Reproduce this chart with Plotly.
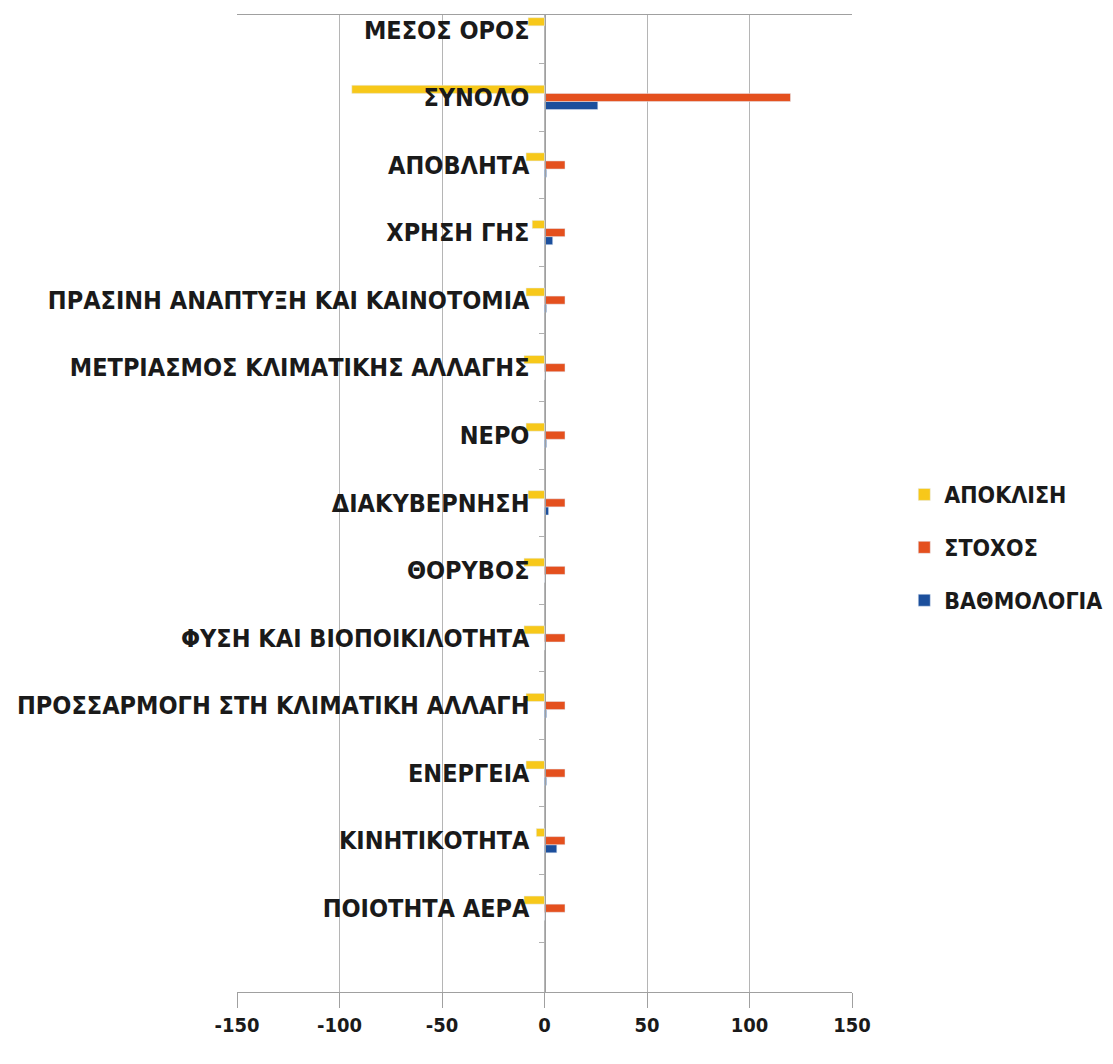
import plotly.graph_objects as go

# categories, bottom to top
categories = ["ΠΟΙΟΤΗΤΑ ΑΕΡΑ", "ΚΙΝΗΤΙΚΟΤΗΤΑ", "ΕΝΕΡΓΕΙΑ",
              "ΠΡΟΣΣΑΡΜΟΓΗ ΣΤΗ ΚΛΙΜΑΤΙΚΗ ΑΛΛΑΓΗ", "ΦΥΣΗ ΚΑΙ ΒΙΟΠΟΙΚΙΛΟΤΗΤΑ",
              "ΘΟΡΥΒΟΣ", "ΔΙΑΚΥΒΕΡΝΗΣΗ", "ΝΕΡΟ",
              "ΜΕΤΡΙΑΣΜΟΣ ΚΛΙΜΑΤΙΚΗΣ ΑΛΛΑΓΗΣ", "ΠΡΑΣΙΝΗ ΑΝΑΠΤΥΞΗ ΚΑΙ ΚΑΙΝΟΤΟΜΙΑ",
              "ΧΡΗΣΗ ΓΗΣ", "ΑΠΟΒΛΗΤΑ", "ΣΥΝΟΛΟ", "ΜΕΣΟΣ ΟΡΟΣ"]

vathmologia = [0, 6, 1, 1, 0, 0, 2, 1, 0, 1, 4, 1, 26, None]
stoxos = [10, 10, 10, 10, 10, 10, 10, 10, 10, 10, 10, 10, 120, None]
apoklisi = [-10, -4, -9, -9, -10, -10, -8, -9, -10, -9, -6, -9, -94, -8]

x_ticks = [-150, -100, -50, 0, 50, 100, 150]
x_labels = ["-150", "-100", "-50", "0", "50", "100", "150"]

font_fam = "DejaVu Sans Condensed, Liberation Sans Narrow, sans-serif"

fig = go.Figure()
fig.add_trace(go.Bar(y=categories, x=vathmologia, orientation="h", name="ΒΑΘΜΟΛΟΓΙΑ",
                     marker_color="#1c4f9c", legendgroup="c", legendrank=3))
fig.add_trace(go.Bar(y=categories, x=stoxos, orientation="h", name="ΣΤΟΧΟΣ",
                     marker_color="#e4501e", legendgroup="b", legendrank=2))
fig.add_trace(go.Bar(y=categories, x=apoklisi, orientation="h", name="ΑΠΟΚΛΙΣΗ",
                     marker_color="#f7c81a", legendgroup="a", legendrank=1))

# page has an 8px body margin, so keep the figure inside the window
fig.update_layout(
    width=1097, height=1048,
    margin=dict(l=229, r=253, t=7, b=64, autoexpand=False),
    plot_bgcolor="white", paper_bgcolor="white",
    barmode="group", bargap=0.64, bargroupgap=0,
    font=dict(family=font_fam, color="#1a1a1a"),
    legend=dict(x=1.085, y=0.455, xanchor="left", yanchor="middle",
                traceorder="grouped", tracegroupgap=20,
                font=dict(size=23, family=font_fam, weight="bold")),
    xaxis=dict(range=[-150, 150], tickvals=x_ticks, ticktext=x_labels,
               showgrid=True, gridcolor="#b5b5b5", zeroline=False,
               showline=True, mirror=True, linecolor="#a0a0a0", ticks="outside",
               ticklen=15, tickcolor="#a0a0a0", automargin=False,
               tickfont=dict(size=20, family=font_fam, weight="bold")),
    yaxis=dict(type="category", range=[-1.24, 13.22], anchor="free", position=0.5,
               showgrid=False, showline=True, linecolor="#a0a0a0", automargin=False,
               ticks="outside", tickson="boundaries", ticklen=6, tickcolor="#b0b0b0",
               ticklabelstandoff=10,
               tickfont=dict(size=25, family=font_fam, weight="bold")),
)

fig.write_html("out.html")
